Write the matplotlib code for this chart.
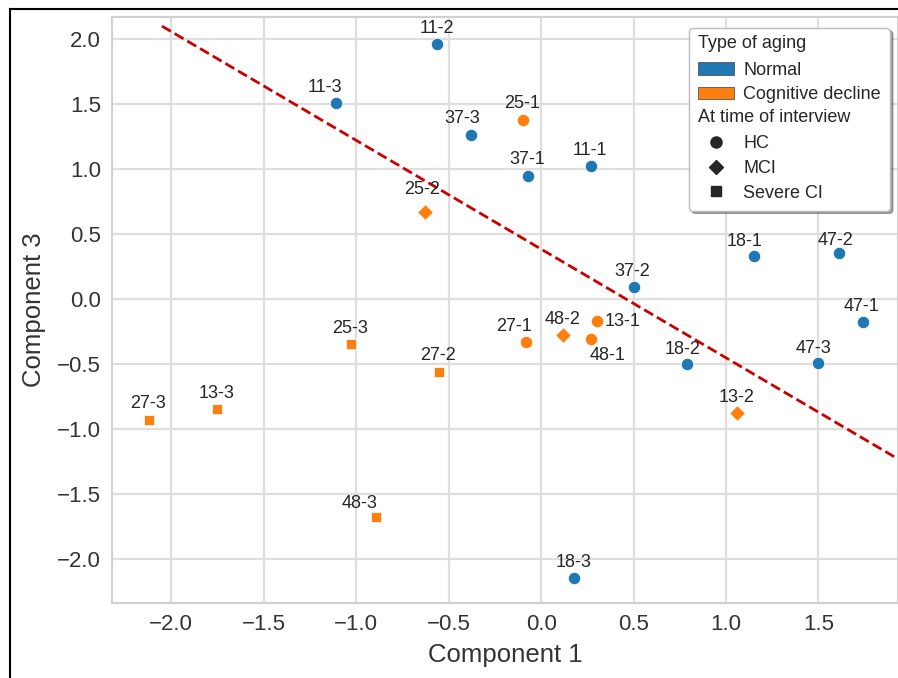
import matplotlib
matplotlib.use("Agg")
import matplotlib.pyplot as plt
from matplotlib.patches import Patch
from matplotlib.lines import Line2D
from matplotlib.text import Text
from matplotlib.legend_handler import HandlerBase

plt.rcParams['font.family'] = ['Liberation Sans', 'DejaVu Sans']

# Data (PCA scores, component 1 vs component 3)
labels = ['11-2', '11-3', '37-3', '25-1', '37-1', '11-1', '25-2', '18-1', '47-2',
          '37-2', '47-1', '13-1', '48-2', '48-1', '27-1', '25-3', '27-2', '18-2',
          '47-3', '13-2', '27-3', '13-3', '48-3', '18-3']
comp1 = [-0.56, -1.11, -0.38, -0.10, -0.07, 0.27, -0.63, 1.15, 1.61,
         0.50, 1.74, 0.30, 0.12, 0.27, -0.08, -1.03, -0.55, 0.79,
         1.50, 1.06, -2.12, -1.75, -0.89, 0.18]
comp3 = [1.96, 1.51, 1.26, 1.38, 0.95, 1.02, 0.67, 0.33, 0.35,
         0.09, -0.18, -0.17, -0.28, -0.31, -0.33, -0.35, -0.56, -0.50,
         -0.49, -0.88, -0.93, -0.85, -1.68, -2.15]
aging = ['Normal', 'Normal', 'Normal', 'Cognitive decline', 'Normal', 'Normal',
         'Cognitive decline', 'Normal', 'Normal', 'Normal', 'Normal',
         'Cognitive decline', 'Cognitive decline', 'Cognitive decline',
         'Cognitive decline', 'Cognitive decline', 'Cognitive decline', 'Normal',
         'Normal', 'Cognitive decline', 'Cognitive decline', 'Cognitive decline',
         'Cognitive decline', 'Normal']
status = ['HC', 'HC', 'HC', 'HC', 'HC', 'HC', 'MCI', 'HC', 'HC', 'HC', 'HC',
          'HC', 'MCI', 'HC', 'HC', 'Severe CI', 'Severe CI', 'HC', 'HC', 'MCI',
          'Severe CI', 'Severe CI', 'Severe CI', 'HC']

# separating line
boundary_x = [-2.05, 2.0]
boundary_y = [2.10, -1.29]

colors = {'Normal': '#1f77b4', 'Cognitive decline': '#ff7f0e'}
markers = {'HC': 'o', 'MCI': 'D', 'Severe CI': 's'}
sizes = {'HC': 78, 'MCI': 62, 'Severe CI': 62}

# label offsets in pixels (dx right, dy up), default is straight above
label_offsets = {'11-3': (-11, 15), '37-3': (-9, 17), '25-2': (-2, 22),
                 '18-1': (-9, 15), '13-1': (26, 0), '48-1': (17, -16),
                 '27-1': (-12, 15), '48-3': (-17, 14), '18-2': (-5, 14),
                 '47-3': (-5, 14), '47-2': (-3, 13)}

fig = plt.figure(figsize=(8.98, 6.78), dpi=100)
ax = fig.add_axes([112 / 898, 1 - 603 / 678, 1 - 112 / 898, (603 - 17) / 678])

ax.set_facecolor('white')
ax.grid(True, color='#dedede', lw=1.6)
ax.set_axisbelow(True)
for s in ax.spines.values():
    s.set_color('#d0d0d0')
    s.set_linewidth(1.5)
ax.tick_params(length=0, labelsize=16, labelcolor='#333333', pad=8)

for st in ['HC', 'MCI', 'Severe CI']:
    for ag in ['Normal', 'Cognitive decline']:
        xs = [x for x, a, s in zip(comp1, aging, status) if a == ag and s == st]
        ys = [y for y, a, s in zip(comp3, aging, status) if a == ag and s == st]
        if xs:
            ax.scatter(xs, ys, c=colors[ag], marker=markers[st], s=sizes[st],
                       edgecolors='white', linewidths=0.5, zorder=3)

for lab, x, y in zip(labels, comp1, comp3):
    dx, dy = label_offsets.get(lab, (-1, 16))
    ax.annotate(lab, (x, y), xytext=(dx, dy), textcoords='offset pixels',
                ha='center', va='center', fontsize=13, color='#262626', zorder=4)

ax.plot(boundary_x, boundary_y, color='#cc0000', ls='--', lw=2, zorder=2)

ax.set_xlim(-2.32, 1.93)
ax.set_ylim(-2.34, 2.17)
ax.set_xticks([-2.0, -1.5, -1.0, -0.5, 0.0, 0.5, 1.0, 1.5])
ax.set_yticks([-2.0, -1.5, -1.0, -0.5, 0.0, 0.5, 1.0, 1.5, 2.0])
ax.set_xlabel('Component 1', fontsize=18.5, color='#333333', labelpad=6)
ax.set_ylabel('Component 3', fontsize=18.5, color='#333333', labelpad=8)


class Heading:
    def __init__(self, text):
        self.text = text


class HeadingHandler(HandlerBase):
    def create_artists(self, legend, orig_handle, xdescent, ydescent,
                       width, height, fontsize, trans):
        t = Text(-xdescent, height / 2 - ydescent, orig_handle.text,
                 fontsize=fontsize, ha='left', va='center', color='#262626',
                 transform=trans)
        return [t]


handles = [Heading('Type of aging'),
           Patch(facecolor=colors['Normal'], edgecolor='#555555', lw=0.6),
           Patch(facecolor=colors['Cognitive decline'], edgecolor='#555555', lw=0.6),
           Heading('At time of interview')]
leg_labels = [' ', 'Normal', 'Cognitive decline', ' ']
for st in ['HC', 'MCI', 'Severe CI']:
    handles.append(Line2D([], [], ls='', marker=markers[st], color='#262626',
                          markersize=8 if st == 'HC' else 7.5))
    leg_labels.append(st)

leg = ax.legend(handles, leg_labels, handler_map={Heading: HeadingHandler()},
                loc='upper right', bbox_to_anchor=(890 / 898, 1 - 28 / 678),
                bbox_transform=fig.transFigure, borderaxespad=0, fontsize=13,
                labelspacing=0.42, handlelength=2.0, handletextpad=0.5,
                frameon=True, shadow=True, fancybox=True, borderpad=0.5)
leg.get_frame().set_edgecolor('#bbbbbb')
leg.get_frame().set_facecolor('white')
leg.get_frame().set_alpha(1)
for t in leg.get_texts():
    t.set_color('#262626')

# black border at the top and left of the cropped figure
fig.add_artist(Line2D([10 / 898, 1], [1 - 9 / 678] * 2, transform=fig.transFigure,
                      color='black', lw=1.5))
fig.add_artist(Line2D([10 / 898] * 2, [0, 1 - 9 / 678], transform=fig.transFigure,
                      color='black', lw=1.5))

fig.savefig('out.png', dpi=100, facecolor='white')
